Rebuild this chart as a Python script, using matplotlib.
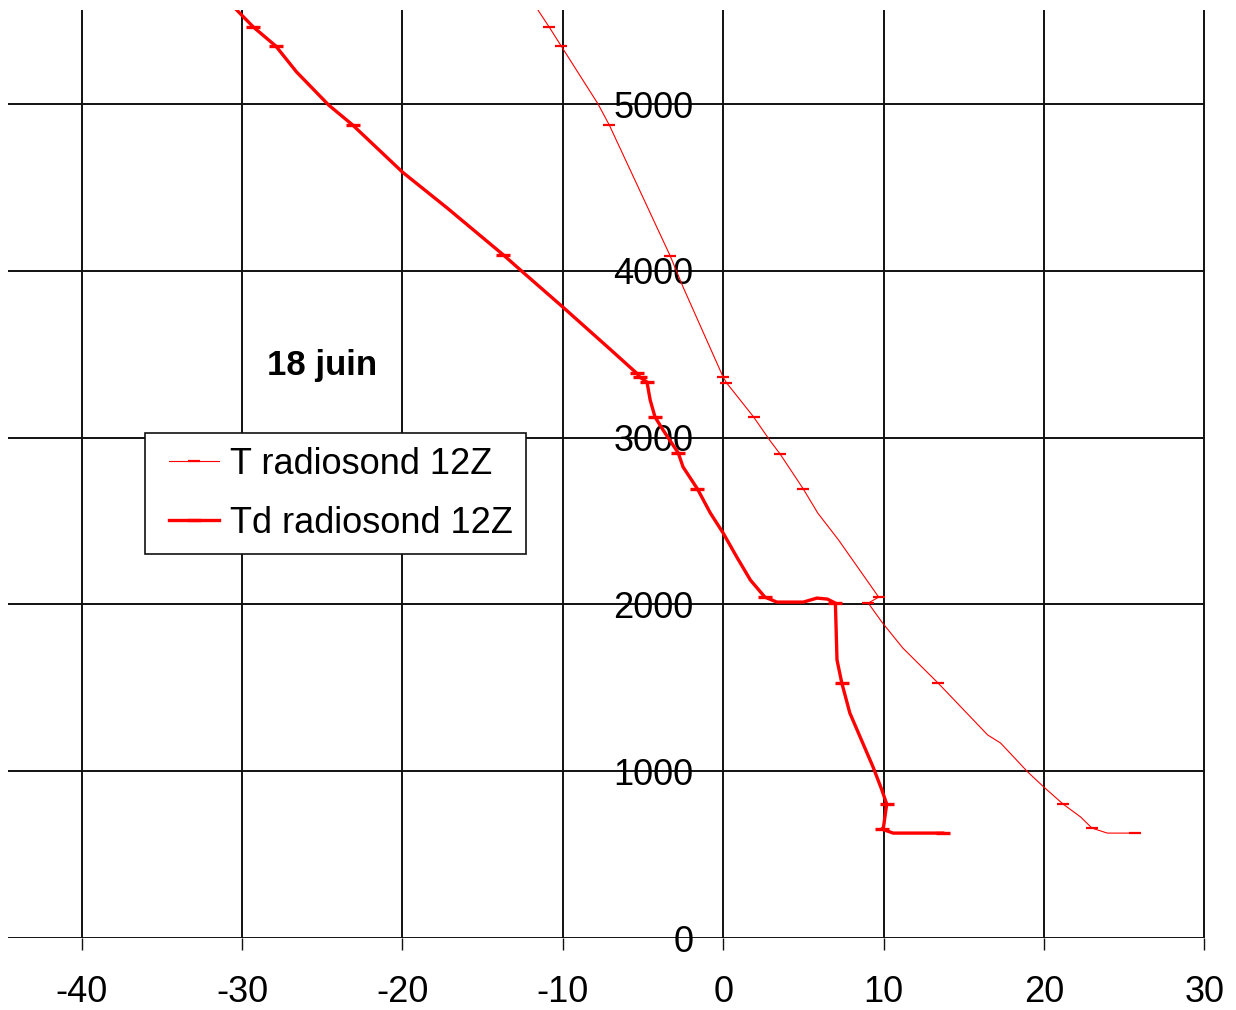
import matplotlib
matplotlib.use("Agg")
import matplotlib.pyplot as plt
from matplotlib.legend_handler import HandlerLine2D

plt.rcParams['font.family'] = ['Liberation Sans', 'DejaVu Sans']
plt.rcParams['axes.unicode_minus'] = False

# Temperature sounding (T) : altitude (m) and temperature (°C)
t_alt = [5600, 5462, 5348, 5000, 4874, 4089, 3903, 3363, 3330, 3124, 2985, 2902,
         2692, 2548, 2386, 2044, 2008, 1894, 1739, 1529, 1217, 1169, 995, 905,
         803, 725, 659, 629, 629]
t_val = [-11.8, -10.85, -10.1, -7.8, -7.1, -3.3, -2.5, 0.0, 0.2, 1.9, 2.9, 3.55,
         5.0, 5.9, 7.2, 9.7, 9.05, 9.9, 11.2, 13.4, 16.5, 17.3, 19.0, 20.0,
         21.2, 22.3, 23.0, 23.95, 25.7]
t_marks = [1, 2, 4, 5, 7, 8, 9, 11, 12, 15, 16, 19, 24, 26, 28]

# Dew point sounding (Td)
td_alt = [5600, 5462, 5348, 5192, 4994, 4874, 4592, 4376, 4095, 3993, 3783, 3543,
          3387, 3363, 3333, 3225, 3124, 3046, 2908, 2824, 2692, 2548, 2428, 2284,
          2146, 2044, 2014, 2014, 2038, 2032, 2008, 1667, 1529, 1349, 1025, 887,
          803, 665, 653, 629, 629]
td_val = [-30.7, -29.3, -27.9, -26.6, -24.6, -23.1, -20.0, -17.2, -13.7, -12.5, -10.0, -7.2,
          -5.4, -5.2, -4.75, -4.55, -4.25, -3.75, -2.8, -2.5, -1.6, -0.8, 0.0, 0.85,
          1.7, 2.6, 3.35, 5.0, 5.85, 6.5, 7.0, 7.1, 7.4, 7.9, 9.35, 9.9,
          10.2, 10.0, 9.9, 10.6, 13.7]
td_marks = [1, 2, 5, 8, 12, 13, 14, 16, 18, 20, 25, 30, 32, 36, 38, 40]

x_ticks = [-40, -30, -20, -10, 0, 10, 20, 30]
y_ticks = [0, 1000, 2000, 3000, 4000, 5000]
series_labels = ["T radiosond 12Z", "Td radiosond 12Z"]
annotation = "18 juin"

W, H = 1236, 1010
fig = plt.figure(figsize=(W / 100, H / 100), dpi=100)
left_px, right_px, top_px, bottom_px = 8, 1205, 10, 938
ax = fig.add_axes([left_px / W, 1 - bottom_px / H,
                   (right_px - left_px) / W, (bottom_px - top_px) / H])

ax.set_xlim(-44.6, 30.05)
ax.set_ylim(0, 5564)

ax.plot(t_val, t_alt, color='#ff0000', lw=0.8, marker='_', ms=9,
        mew=1.6, markevery=t_marks, label=series_labels[0], zorder=3)
ax.plot(td_val, td_alt, color='#ff0000', lw=2.4, marker='_', ms=10,
        mew=2.4, markevery=td_marks, label=series_labels[1], zorder=3)

ax.set_xticks(x_ticks)
ax.set_yticks(y_ticks)
ax.grid(True, color='#111111', lw=1.4, zorder=1)
ax.set_axisbelow(True)

for s in ['top', 'right', 'bottom']:
    ax.spines[s].set_visible(False)
ax.spines['left'].set_position(('data', 0))
ax.spines['left'].set_color('none')

ax.tick_params(axis='x', direction='out', length=8.6, width=1.0, color='#111111',
               labelsize=26, pad=18)
ax.tick_params(axis='y', length=0, labelsize=26, pad=21.5)

ax.text(-25.0, 3435, annotation, fontsize=25, fontweight='bold',
        ha='center', va='center')

leg = ax.legend(loc='upper left', bbox_to_anchor=((145 - left_px) / (right_px - left_px),
                (bottom_px - 433) / (bottom_px - top_px)),
                borderaxespad=0, fontsize=26, frameon=True, fancybox=False,
                edgecolor='#111111', framealpha=1, handlelength=1.66,
                handletextpad=0.3, borderpad=0.38, labelspacing=0.66,
                handler_map={plt.Line2D: HandlerLine2D(xpad=0.28)})
leg.get_frame().set_linewidth(1.2)

fig.savefig('out.png', dpi=100)
